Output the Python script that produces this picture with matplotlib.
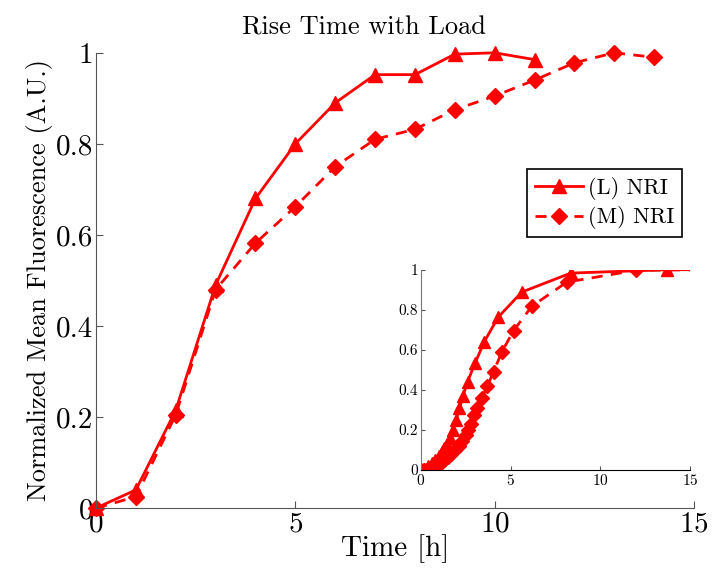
import numpy as np
import matplotlib.pyplot as plt
from matplotlib.ticker import FuncFormatter

plt.rcParams['font.family'] = ['cmr10', 'DejaVu Serif']
plt.rcParams['axes.formatter.use_mathtext'] = True
plt.rcParams['mathtext.fontset'] = 'cm'

# main panel: hourly samples
t_L = [0, 1, 2, 3, 4, 5, 6, 7, 8, 9, 10, 11]
y_L = [0.0, 0.04, 0.215, 0.49, 0.68, 0.80, 0.89, 0.952, 0.952, 0.997, 1.0, 0.985]
t_M = [0, 1, 2, 3, 4, 5, 6, 7, 8, 9, 10, 11, 12, 13, 14]
y_M = [0.0, 0.025, 0.205, 0.48, 0.582, 0.662, 0.75, 0.81, 0.832, 0.875, 0.905, 0.94, 0.978, 1.0, 0.99]

# inset: denser samples
ti_L = [0.0, 0.2, 0.4, 0.6, 0.8, 1.0, 1.15, 1.3, 1.45, 1.6, 1.78, 1.97, 2.15, 2.34,
        2.6, 3.02, 3.52, 4.3, 5.62, 8.35, 13.7, 16.5]
yi_L = [0.0, 0.005, 0.02, 0.035, 0.05, 0.07, 0.09, 0.11, 0.13, 0.158, 0.2, 0.25, 0.308, 0.367,
        0.44, 0.533, 0.638, 0.762, 0.888, 0.983, 1.0, 1.0]
ti_M = [0.0, 0.2, 0.4, 0.6, 0.87, 1.1, 1.3, 1.5, 1.7, 1.9, 2.1, 2.3, 2.5, 2.65, 2.8,
        2.97, 3.15, 3.4, 3.7, 4.05, 4.5, 5.16, 6.18, 8.13, 12.0, 16.0]
yi_M = [0.0, 0.0, 0.005, 0.01, 0.02, 0.035, 0.05, 0.065, 0.08, 0.1, 0.12, 0.145, 0.175, 0.2,
        0.23, 0.275, 0.308, 0.358, 0.417, 0.49, 0.587, 0.695, 0.817, 0.938, 0.997, 1.0]

red = '#ff0000'

fig = plt.figure(figsize=(7.14, 5.8), dpi=100)
ax = fig.add_axes([0.1345, 0.124, 0.8375, 0.785])

ax.plot(t_L, y_L, '-', color=red, lw=2, marker='^', ms=10, label='(L) NRI', clip_on=False)
ax.plot(t_M, y_M, '--', color=red, lw=2, marker='D', ms=8, label='(M) NRI', clip_on=False,
        dashes=(4, 3))

ax.set_xlim(0, 15)
ax.set_ylim(0, 1)
ax.set_xticks([0, 5, 10, 15])
ax.set_yticks([0, 0.2, 0.4, 0.6, 0.8, 1])
ax.yaxis.set_major_formatter(FuncFormatter(lambda v, p: '%g' % v))
ax.tick_params(direction='in', labelsize=21, length=5, color='#555555', pad=2)
for s in ['top', 'right']:
    ax.spines[s].set_visible(False)
for s in ['left', 'bottom']:
    ax.spines[s].set_color('#555555')

ax.set_title('Rise Time with Load', fontsize=19, x=0.448, pad=13)
ax.set_xlabel('Time [h]', fontsize=21, labelpad=-2)
ax.set_ylabel('Normalized Mean Fluorescence (A.U.)', fontsize=19, labelpad=2)

leg = ax.legend(loc='upper right', bbox_to_anchor=(0.98, 0.745), fontsize=16,
                fancybox=False, edgecolor='black', framealpha=1, handlelength=2.2,
                borderpad=0.35, labelspacing=0.3, handletextpad=0.2, borderaxespad=0)
leg.get_frame().set_linewidth(1.2)

# inset
axi = fig.add_axes([0.5895, 0.19, 0.377, 0.345])
axi.plot(ti_L, yi_L, '-', color=red, lw=2, marker='^', ms=8)
axi.plot(ti_M, yi_M, '--', color=red, lw=2, marker='D', ms=7, dashes=(4, 3))
axi.set_xlim(0, 15)
axi.set_ylim(0, 1)
axi.set_xticks([0, 5, 10, 15])
axi.set_yticks([0, 0.2, 0.4, 0.6, 0.8, 1])
axi.yaxis.set_major_formatter(FuncFormatter(lambda v, p: '%g' % v))
axi.tick_params(direction='in', labelsize=11, length=3, color='#555555', pad=2)
for s in ['top', 'right']:
    axi.spines[s].set_visible(False)
axi.spines['left'].set_color('#777777')
axi.spines['bottom'].set_color('black')

fig.savefig('out.png', dpi=100)
